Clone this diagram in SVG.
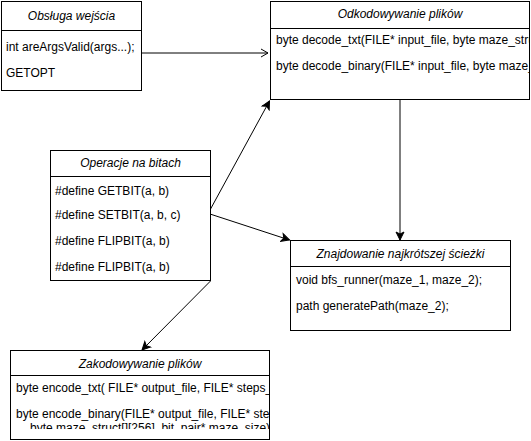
<svg xmlns="http://www.w3.org/2000/svg" width="531" height="441" viewBox="0 0 531 441">
<style>
.box{fill:#fff;stroke:#000;stroke-width:1}
.sep{stroke:#000;stroke-width:1}
.h{font-family:"Liberation Sans",Arial,sans-serif;font-size:12px;font-style:italic;text-anchor:middle;fill:#000}
.t{font-family:"Liberation Sans",Arial,sans-serif;font-size:12px;fill:#000}
.c{fill:none;stroke:#000;stroke-width:1}
</style>
<defs>
<marker id="open" markerWidth="10" markerHeight="10" refX="8" refY="5" orient="auto" markerUnits="userSpaceOnUse">
<path d="M1,1 L8,5 L1,9" fill="none" stroke="#000" stroke-width="1"/>
</marker>
<marker id="block" markerWidth="10" markerHeight="10" refX="9" refY="5" orient="auto" markerUnits="userSpaceOnUse">
<path d="M1,1 L9,5 L1,9 L3,5 Z" fill="#000" stroke="#000" stroke-width="1"/>
</marker>
<clipPath id="clipOdk"><rect x="270" y="1" width="260" height="99"/></clipPath>
<clipPath id="clipZak"><rect x="10" y="376" width="259" height="53"/></clipPath>
</defs>
<g id="connectors">
<line class="c" x1="142" y1="53" x2="268" y2="53" marker-end="url(#open)"/>
<line class="c" x1="400" y1="100" x2="400" y2="240" marker-end="url(#block)"/>
<line class="c" x1="210" y1="210" x2="269.5" y2="101" marker-end="url(#block)"/>
<line class="c" x1="210" y1="214" x2="289.5" y2="240" marker-end="url(#block)"/>
<line class="c" x1="210.5" y1="281" x2="142" y2="350" marker-end="url(#block)"/>
</g>
<g id="obsluga">
<rect class="box" x="1.5" y="1.5" width="140" height="89"/>
<line class="sep" x1="1.5" y1="30.5" x2="141.5" y2="30.5"/>
<text class="h" x="71.5" y="20">Obsługa wejścia</text>
<text class="t" x="6" y="51">int areArgsValid(args...);</text>
<text class="t" x="6" y="77">GETOPT</text>
</g>
<g id="odkodowywanie">
<rect class="box" x="270.5" y="1.5" width="259" height="98"/>
<line class="sep" x1="270.5" y1="28.5" x2="529.5" y2="28.5"/>
<text class="h" x="400" y="18">Odkodowywanie plików</text>
<g clip-path="url(#clipOdk)">
<text class="t" x="276" y="44">byte decode_txt(FILE* input_file, byte maze_struct[][256]);</text>
<text class="t" x="276" y="70">byte decode_binary(FILE* input_file, byte maze_struct[][256]);</text>
</g>
</g>
<g id="operacje">
<rect class="box" x="50.5" y="150.5" width="160" height="130"/>
<line class="sep" x1="50.5" y1="176.5" x2="210.5" y2="176.5"/>
<text class="h" x="130.5" y="167">Operacje na bitach</text>
<text class="t" x="55" y="195">#define GETBIT(a, b)</text>
<text class="t" x="55" y="219">#define SETBIT(a, b, c)</text>
<text class="t" x="55" y="245">#define FLIPBIT(a, b)</text>
<text class="t" x="55" y="271">#define FLIPBIT(a, b)</text>
</g>
<g id="znajdowanie">
<rect class="box" x="290.5" y="240.5" width="220" height="90"/>
<line class="sep" x1="290.5" y1="266.5" x2="510.5" y2="266.5"/>
<text class="h" x="400.5" y="258">Znajdowanie najkrótszej ścieżki</text>
<text class="t" x="296" y="284">void bfs_runner(maze_1, maze_2);</text>
<text class="t" x="296" y="310">path generatePath(maze_2);</text>
</g>
<g id="zakodowywanie">
<rect class="box" x="10.5" y="350.5" width="259" height="89"/>
<line class="sep" x1="10.5" y1="375.5" x2="269.5" y2="375.5"/>
<text class="h" x="140" y="368">Zakodowywanie plików</text>
<g clip-path="url(#clipZak)">
<text class="t" x="16" y="392">byte encode_txt( FILE* output_file, FILE* steps_file);</text>
<text class="t" x="16" y="418">byte encode_binary(FILE* output_file, FILE* steps_file,</text>
<text class="t" x="30" y="432">byte maze_struct[][256], bit_pair* maze_size);</text>
</g>
</g>
</svg>
